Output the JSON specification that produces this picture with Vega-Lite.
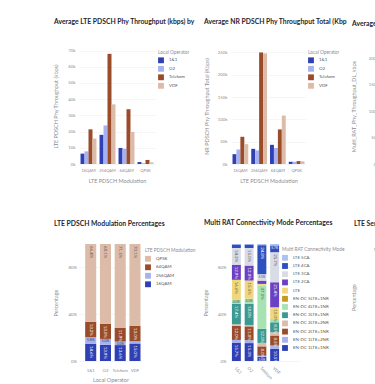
{
  "$schema": "https://vega.github.io/schema/vega-lite/v6.json",
  "background": "white",
  "padding": {"left": 52, "top": 18, "right": 0, "bottom": 0},
  "config": {
    "font": "Lato",
    "view": {"stroke": null},
    "title": {"font": "Lato", "fontSize": 6.8, "fontWeight": "bold", "color": "#262730", "anchor": "start", "frame": "group", "offset": 20},
    "axis": {"labelFont": "Lato", "titleFont": "Lato", "labelFontSize": 4.3, "titleFontSize": 5.5, "labelColor": "#8a8d96", "titleColor": "#8a8d96", "titleFontWeight": "normal", "domain": false, "ticks": false, "gridColor": "#eef0f4", "gridWidth": 0.6, "labelPadding": 4, "labelOverlap": false},
    "axisX": {"grid": false, "labelAngle": 0, "titlePadding": 6},
    "legend": {"labelFont": "Lato", "titleFont": "Lato", "labelFontSize": 4.4, "titleFontSize": 4.8, "titleFontWeight": "normal", "titleColor": "#8a8d96", "labelColor": "#555", "symbolType": "square", "symbolSize": 34, "symbolStrokeWidth": 0, "rowPadding": 2.5, "titlePadding": 3, "padding": 4, "labelOffset": 5, "orient": "none"}
  },
  "datasets": {
    "thr": [
      {"mod": "16QAM", "op": "1&1", "lte": 6400, "nr": 22000},
      {"mod": "16QAM", "op": "O2", "lte": 7800, "nr": 32500},
      {"mod": "16QAM", "op": "Telekom", "lte": 21400, "nr": 61000},
      {"mod": "16QAM", "op": "VDF", "lte": 15700, "nr": 44500},
      {"mod": "256QAM", "op": "1&1", "lte": 18000, "nr": 34000},
      {"mod": "256QAM", "op": "O2", "lte": 23800, "nr": 30500},
      {"mod": "256QAM", "op": "Telekom", "lte": 68000, "nr": 250000},
      {"mod": "256QAM", "op": "VDF", "lte": 36800, "nr": 248000},
      {"mod": "64QAM", "op": "1&1", "lte": 9900, "nr": 43000},
      {"mod": "64QAM", "op": "O2", "lte": 9400, "nr": 36000},
      {"mod": "64QAM", "op": "Telekom", "lte": 33800, "nr": 77500},
      {"mod": "64QAM", "op": "VDF", "lte": 19800, "nr": 108500},
      {"mod": "QPSK", "op": "1&1", "lte": 1200, "nr": 5000},
      {"mod": "QPSK", "op": "O2", "lte": 500, "nr": 5000},
      {"mod": "QPSK", "op": "Telekom", "lte": 2500, "nr": 6500},
      {"mod": "QPSK", "op": "VDF", "lte": 1000, "nr": 6000}
    ],
    "mr": [
      {"op": "1&1", "v": 95000},
      {"op": "O2", "v": 82000},
      {"op": "Telekom", "v": 208000},
      {"op": "VDF", "v": 150000}
    ],
    "lmod": [
      {"op": "1&1", "mod": "16QAM", "pct": 0.146},
      {"op": "1&1", "mod": "256QAM", "pct": 0.058},
      {"op": "1&1", "mod": "64QAM", "pct": 0.132},
      {"op": "1&1", "mod": "QPSK", "pct": 0.664},
      {"op": "O2", "mod": "16QAM", "pct": 0.139},
      {"op": "O2", "mod": "256QAM", "pct": 0.05},
      {"op": "O2", "mod": "64QAM", "pct": 0.13},
      {"op": "O2", "mod": "QPSK", "pct": 0.681},
      {"op": "Telekom", "mod": "16QAM", "pct": 0.136},
      {"op": "Telekom", "mod": "256QAM", "pct": 0.03},
      {"op": "Telekom", "mod": "64QAM", "pct": 0.119},
      {"op": "Telekom", "mod": "QPSK", "pct": 0.715},
      {"op": "VDF", "mod": "16QAM", "pct": 0.15},
      {"op": "VDF", "mod": "256QAM", "pct": 0.019},
      {"op": "VDF", "mod": "64QAM", "pct": 0.13},
      {"op": "VDF", "mod": "QPSK", "pct": 0.701}
    ],
    "mrat": [
      {"op": "1&1", "mode": "EN-DC 1LTE+1NR", "pct": 0.157},
      {"op": "1&1", "mode": "EN-DC 1LTE+2NR", "pct": 0.023},
      {"op": "1&1", "mode": "EN-DC 2LTE+1NR", "pct": 0.12},
      {"op": "1&1", "mode": "EN-DC 2LTE+2NR", "pct": 0.014},
      {"op": "1&1", "mode": "EN-DC 3LTE+1NR", "pct": 0.174},
      {"op": "1&1", "mode": "EN-DC 4LTE+1NR", "pct": 0.04},
      {"op": "1&1", "mode": "LTE", "pct": 0.166},
      {"op": "1&1", "mode": "LTE 2CA", "pct": 0.129},
      {"op": "1&1", "mode": "LTE 3CA", "pct": 0.143},
      {"op": "1&1", "mode": "LTE 4CA", "pct": 0.03},
      {"op": "1&1", "mode": "LTE 5CA", "pct": 0.004},
      {"op": "O2", "mode": "EN-DC 1LTE+1NR", "pct": 0.153},
      {"op": "O2", "mode": "EN-DC 1LTE+2NR", "pct": 0.025},
      {"op": "O2", "mode": "EN-DC 2LTE+1NR", "pct": 0.118},
      {"op": "O2", "mode": "EN-DC 2LTE+2NR", "pct": 0.012},
      {"op": "O2", "mode": "EN-DC 3LTE+1NR", "pct": 0.18},
      {"op": "O2", "mode": "EN-DC 4LTE+1NR", "pct": 0.045},
      {"op": "O2", "mode": "LTE", "pct": 0.155},
      {"op": "O2", "mode": "LTE 2CA", "pct": 0.128},
      {"op": "O2", "mode": "LTE 3CA", "pct": 0.15},
      {"op": "O2", "mode": "LTE 4CA", "pct": 0.03},
      {"op": "O2", "mode": "LTE 5CA", "pct": 0.004},
      {"op": "Telekom", "mode": "EN-DC 1LTE+1NR", "pct": 0.035},
      {"op": "Telekom", "mode": "EN-DC 1LTE+2NR", "pct": 0.01},
      {"op": "Telekom", "mode": "EN-DC 2LTE+1NR", "pct": 0.08},
      {"op": "Telekom", "mode": "EN-DC 2LTE+2NR", "pct": 0.03},
      {"op": "Telekom", "mode": "EN-DC 3LTE+1NR", "pct": 0.12},
      {"op": "Telekom", "mode": "EN-DC 4LTE+1NR", "pct": 0.37},
      {"op": "Telekom", "mode": "LTE", "pct": 0.014},
      {"op": "Telekom", "mode": "LTE 2CA", "pct": 0.028},
      {"op": "Telekom", "mode": "LTE 3CA", "pct": 0.055},
      {"op": "Telekom", "mode": "LTE 4CA", "pct": 0.248},
      {"op": "Telekom", "mode": "LTE 5CA", "pct": 0.01},
      {"op": "VDF", "mode": "EN-DC 1LTE+1NR", "pct": 0.105},
      {"op": "VDF", "mode": "EN-DC 1LTE+2NR", "pct": 0.028},
      {"op": "VDF", "mode": "EN-DC 2LTE+1NR", "pct": 0.085},
      {"op": "VDF", "mode": "EN-DC 2LTE+2NR", "pct": 0.028},
      {"op": "VDF", "mode": "EN-DC 3LTE+1NR", "pct": 0.085},
      {"op": "VDF", "mode": "EN-DC 4LTE+1NR", "pct": 0.028},
      {"op": "VDF", "mode": "LTE", "pct": 0.1},
      {"op": "VDF", "mode": "LTE 2CA", "pct": 0.214},
      {"op": "VDF", "mode": "LTE 3CA", "pct": 0.257},
      {"op": "VDF", "mode": "LTE 4CA", "pct": 0.057},
      {"op": "VDF", "mode": "LTE 5CA", "pct": 0.013}
    ],
    "serv": [
      {"op": "1&1", "pct": 1.0},
      {"op": "O2", "pct": 1.0},
      {"op": "Telekom", "pct": 1.0},
      {"op": "VDF", "pct": 1.0}
    ]
  },
  "resolve": {"scale": {"color": "independent", "xOffset": "independent"}},
  "spacing": 36,
  "vconcat": [
    {
      "bounds": "flush",
      "spacing": 76,
      "resolve": {"scale": {"color": "independent", "xOffset": "independent"}},
      "hconcat": [
        {
          "width": 76, "height": 116,
          "title": {"text": "Average LTE PDSCH Phy Throughput (kbps) by", "dx": -25},
          "data": {"name": "thr"},
          "mark": {"type": "bar"},
          "encoding": {
            "x": {"field": "mod", "type": "nominal", "sort": ["16QAM", "256QAM", "64QAM", "QPSK"], "scale": {"paddingInner": 0.16, "paddingOuter": 0.08}, "axis": {"title": "LTE PDSCH Modulation", "labelFontSize": 4}},
            "xOffset": {"field": "op", "type": "nominal", "sort": ["1&1", "O2", "Telekom", "VDF"], "scale": {"paddingInner": 0}},
            "y": {"field": "lte", "type": "quantitative", "scale": {"domain": [0, 71600], "nice": false}, "axis": {"title": "LTE PDSCH Phy Throughput (kbps)", "format": "~s", "values": [0, 10000, 20000, 30000, 40000, 50000, 60000, 70000], "titleX": -21}},
            "color": {"field": "op", "type": "nominal", "scale": {"domain": ["1&1", "O2", "Telekom", "VDF"], "range": ["#2e40b4", "#a6b1f0", "#9a4b2a", "#dcbba9"]}, "legend": {"title": "Local Operator", "legendX": 75, "legendY": -2.5}}
          }
        },
        {
          "width": 75, "height": 116,
          "title": {"text": "Average NR PDSCH Phy Throughput Total (Kbp", "dx": -27},
          "data": {"name": "thr"},
          "mark": {"type": "bar"},
          "encoding": {
            "x": {"field": "mod", "type": "nominal", "sort": ["16QAM", "256QAM", "64QAM", "QPSK"], "scale": {"paddingInner": 0.16, "paddingOuter": 0.08}, "axis": {"title": "LTE PDSCH Modulation", "labelFontSize": 4}},
            "xOffset": {"field": "op", "type": "nominal", "sort": ["1&1", "O2", "Telekom", "VDF"], "scale": {"paddingInner": 0}},
            "y": {"field": "nr", "type": "quantitative", "scale": {"domain": [0, 260000], "nice": false}, "axis": {"title": "NR PDSCH Phy Throughput Total (Kbps)", "format": "~s", "values": [0, 50000, 100000, 150000, 200000, 250000], "titleX": -21.5}},
            "color": {"field": "op", "type": "nominal", "scale": {"domain": ["1&1", "O2", "Telekom", "VDF"], "range": ["#2e40b4", "#a6b1f0", "#9a4b2a", "#dcbba9"]}, "legend": {"title": "Local Operator", "legendX": 73, "legendY": -2.5}}
          }
        },
        {
          "width": 60, "height": 116,
          "title": {"text": "Average Multi RAT Phy Throughput", "dx": -30},
          "data": {"name": "mr"},
          "mark": {"type": "bar"},
          "encoding": {
            "x": {"field": "op", "type": "nominal", "axis": {"title": "Local Operator"}},
            "y": {"field": "v", "type": "quantitative", "scale": {"domain": [0, 219000], "nice": false}, "axis": {"title": "Multi_RAT_Phy_Throughput_DL_kbps", "format": "~s", "values": [0, 50000, 100000, 150000, 200000], "titleX": -26}},
            "color": {"field": "op", "type": "nominal", "scale": {"domain": ["1&1", "O2", "Telekom", "VDF"], "range": ["#2e40b4", "#a6b1f0", "#9a4b2a", "#dcbba9"]}, "legend": null}
          }
        }
      ]
    },
    {
      "bounds": "flush",
      "spacing": 88,
      "resolve": {"scale": {"color": "independent"}},
      "hconcat": [
        {
          "width": 63, "height": 117,
          "title": {"text": "LTE PDSCH Modulation Percentages", "dx": -25, "offset": 16},
          "data": {"name": "lmod"},
          "transform": [{"stack": "pct", "groupby": ["op"], "sort": [{"field": "mod", "order": "ascending"}], "as": ["y0", "y1"]}],
          "encoding": {
            "x": {"field": "op", "type": "nominal", "sort": ["1&1", "O2", "Telekom", "VDF"], "scale": {"paddingInner": 0.25, "paddingOuter": 0.26, "align": 0.805}, "axis": {"title": "Local Operator", "labelPadding": 7, "titlePadding": 5}}
          },
          "layer": [
            {
              "mark": {"type": "bar"},
              "encoding": {
                "y": {"field": "y0", "type": "quantitative", "scale": {"domain": [0, 1], "nice": false}, "axis": {"title": "Percentage", "format": ".0%", "values": [0, 0.2, 0.4, 0.6, 0.8, 1], "titleX": -21, "labelPadding": 2.5}},
                "y2": {"field": "y1"},
                "color": {"field": "mod", "type": "nominal", "scale": {"domain": ["16QAM", "256QAM", "64QAM", "QPSK"], "range": ["#2e40b4", "#a6b1f0", "#9a4b2a", "#dcbba9"]}, "legend": {"title": "LTE PDSCH Modulation", "values": ["QPSK", "64QAM", "256QAM", "16QAM"], "legendX": 62, "legendY": 0}}
              }
            },
            {
              "transform": [{"filter": "datum.pct >= 0.08"}],
              "mark": {"type": "text", "angle": 90, "align": "left", "baseline": "middle", "dx": 2, "fontSize": 4.4},
              "encoding": {
                "y": {"field": "y1", "type": "quantitative"},
                "text": {"field": "pct", "type": "quantitative", "format": ".1%"},
                "color": {"condition": {"test": "datum.mod === 'QPSK'", "value": "#555555"}, "value": "#ffffff"}
              }
            },
            {
              "transform": [{"filter": "datum.pct >= 0.028 && datum.pct < 0.08"}],
              "mark": {"type": "text", "align": "center", "baseline": "top", "dy": 0.6, "fontSize": 3.4, "color": "#444444"},
              "encoding": {
                "y": {"field": "y1", "type": "quantitative"},
                "text": {"field": "pct", "type": "quantitative", "format": ".1%"}
              }
            }
          ]
        },
        {
          "width": 70, "height": 117,
          "title": {"text": "Multi RAT Connectivity Mode Percentages", "dx": -26, "offset": 16},
          "data": {"name": "mrat"},
          "transform": [{"stack": "pct", "groupby": ["op"], "sort": [{"field": "mode", "order": "ascending"}], "as": ["y0", "y1"]}],
          "encoding": {
            "x": {"field": "op", "type": "nominal", "sort": ["1&1", "O2", "Telekom", "VDF"], "scale": {"paddingInner": 0.3, "paddingOuter": 0.895, "align": 0.084}, "axis": {"title": "Local Operator", "labelAngle": 45, "labelAlign": "left", "labelBaseline": "top", "labelPadding": 5, "titlePadding": 12}}
          },
          "layer": [
            {
              "mark": {"type": "bar"},
              "encoding": {
                "y": {"field": "y0", "type": "quantitative", "scale": {"domain": [0, 1], "nice": false}, "axis": {"title": "Percentage", "format": ".0%", "values": [0, 0.2, 0.4, 0.6, 0.8, 1], "titleX": -22}},
                "y2": {"field": "y1"},
                "color": {"field": "mode", "type": "nominal", "scale": {"domain": ["EN-DC 1LTE+1NR", "EN-DC 1LTE+2NR", "EN-DC 2LTE+1NR", "EN-DC 2LTE+2NR", "EN-DC 3LTE+1NR", "EN-DC 4LTE+1NR", "EN-DC 5LTE+1NR", "LTE", "LTE 2CA", "LTE 3CA", "LTE 4CA", "LTE 5CA"], "range": ["#2e40b4", "#a6b1f0", "#9a4b2a", "#dcbba9", "#3a9a92", "#a6e2b2", "#c49a1e", "#f0d77c", "#6a40c4", "#d9dbe6", "#2e4fbf", "#a9c2f0"]}, "legend": {"title": "Multi RAT Connectivity Mode", "legendX": 48, "legendY": -1, "rowPadding": 2.2, "values": ["LTE 5CA", "LTE 4CA", "LTE 3CA", "LTE 2CA", "LTE", "EN-DC 5LTE+1NR", "EN-DC 4LTE+1NR", "EN-DC 3LTE+1NR", "EN-DC 2LTE+2NR", "EN-DC 2LTE+1NR", "EN-DC 1LTE+2NR", "EN-DC 1LTE+1NR"]}}
              }
            },
            {
              "transform": [{"filter": "datum.pct >= 0.08"}],
              "mark": {"type": "text", "angle": 90, "align": "left", "baseline": "middle", "dx": 2, "fontSize": 4.4},
              "encoding": {
                "y": {"field": "y1", "type": "quantitative"},
                "text": {"field": "pct", "type": "quantitative", "format": ".1%"},
                "color": {"condition": {"test": "indexof(['EN-DC 1LTE+2NR','EN-DC 2LTE+2NR','EN-DC 4LTE+1NR','LTE','LTE 3CA','LTE 5CA'], datum.mode) >= 0", "value": "#555555"}, "value": "#ffffff"}
              }
            },
            {
              "transform": [{"filter": "datum.pct >= 0.035 && datum.pct < 0.08"}],
              "mark": {"type": "text", "align": "center", "baseline": "top", "dy": 0.6, "fontSize": 3.2},
              "encoding": {
                "y": {"field": "y1", "type": "quantitative"},
                "text": {"field": "pct", "type": "quantitative", "format": ".1%"},
                "color": {"condition": {"test": "indexof(['EN-DC 1LTE+2NR','EN-DC 2LTE+2NR','EN-DC 4LTE+1NR','LTE','LTE 3CA','LTE 5CA'], datum.mode) >= 0", "value": "#555555"}, "value": "#ffffff"}
              }
            }
          ]
        },
        {
          "width": 50, "height": 106,
          "title": {"text": "LTE Serving Band Percentages", "dx": -34, "offset": 16},
          "data": {"name": "serv"},
          "mark": {"type": "bar", "color": "#2e40b4"},
          "encoding": {
            "x": {"field": "op", "type": "nominal", "axis": {"title": "Local Operator"}},
            "y": {"field": "pct", "type": "quantitative", "scale": {"domain": [0, 1.05], "nice": false}, "axis": {"title": "Percentage", "format": ".0%", "values": [0, 0.2, 0.4, 0.6, 0.8, 1], "titleX": -32}}
          }
        }
      ]
    }
  ]
}
